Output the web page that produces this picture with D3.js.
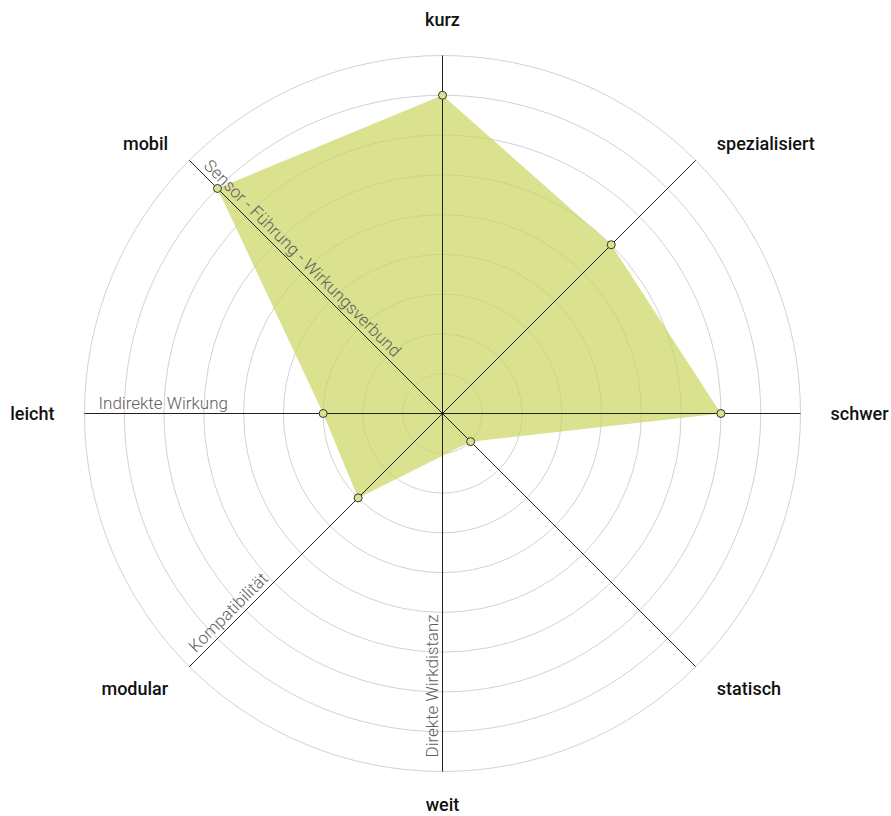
<!DOCTYPE html>
<html>
<head>
<style>
  body { margin: 0; background: #fff; }
  .label { font-family: Roboto, sans-serif; font-size: 18px; fill: #111; font-weight: 500; }
  .title { font-family: Roboto, sans-serif; font-size: 17px; fill: #5e5e5e; font-weight: 300; }
</style>
</head>
<body>
<div id="viz"></div>
<script src="https://d3js.org/d3.v7.min.js"></script>
<script>
  // axes, clockwise from the top
  const axes = ["kurz", "spezialisiert", "schwer", "statisch", "weit", "modular", "leicht", "mobil"];
  const values = [8, 6, 7, 1, null, 3, 3, 8];
  const axisTitles = ["", "", "", "", "Direkte Wirkdistanz", "Kompatibilität", "Indirekte Wirkung", "Sensor - Führung - Wirkungsverbund"];
  const rings = [1, 2, 3, 4, 5, 6, 7, 8, 9];

  const width = 891, height = 816,
        cx = 442.5, cy = 413.5, R = 358;

  const svg = d3.select("#viz").append("svg")
      .attr("width", width)
      .attr("height", height);

  const r = d3.scaleLinear()
      .domain([0, 9])
      .range([0, R]);

  const angle = d3.scalePoint()
      .domain(axes)
      .range([0, 2 * Math.PI * 7 / 8]);

  const g = svg.append("g")
      .attr("transform", `translate(${cx},${cy})`);

  const px = (a, rad) => rad * Math.sin(a),
        py = (a, rad) => -rad * Math.cos(a);

  // rings
  g.selectAll(".ring")
      .data(rings)
    .enter().append("circle")
      .attr("class", "ring")
      .attr("r", d => r(d))
      .attr("fill", "none")
      .attr("stroke", "#d2d2d2")
      .attr("stroke-width", 1);

  // filled area, skipping missing values
  const pts = axes.map((d, i) => ({ axis: d, value: values[i] }))
      .filter(d => d.value != null);

  const line = d3.lineRadial()
      .angle(d => angle(d.axis))
      .radius(d => r(d.value))
      .curve(d3.curveLinearClosed);

  g.append("path")
      .datum(pts)
      .attr("d", line)
      .attr("fill", "rgb(202,212,95)")
      .attr("fill-opacity", 0.7);

  // axis lines
  g.selectAll(".axis")
      .data(axes)
    .enter().append("line")
      .attr("class", "axis")
      .attr("x1", 0)
      .attr("y1", 0)
      .attr("x2", d => px(angle(d), R))
      .attr("y2", d => py(angle(d), R))
      .attr("stroke", "#222")
      .attr("stroke-width", 1);

  // axis titles, along the axis reading inwards
  axes.forEach((d, i) => {
    if (!axisTitles[i]) return;
    const a = angle(d);
    const rot = Math.atan2(Math.cos(a), -Math.sin(a)) * 180 / Math.PI;
    g.append("text")
        .attr("class", "title")
        .attr("transform", `translate(${px(a, 344)},${py(a, 344)}) rotate(${rot})`)
        .attr("dy", -5)
        .text(axisTitles[i]);
  });

  // markers
  g.selectAll(".dot")
      .data(pts)
    .enter().append("circle")
      .attr("class", "dot")
      .attr("cx", d => px(angle(d.axis), r(d.value)))
      .attr("cy", d => py(angle(d.axis), r(d.value)))
      .attr("r", 4)
      .attr("fill", "#dbe290")
      .attr("stroke", "#333")
      .attr("stroke-width", 1);

  // outer labels
  g.selectAll(".label")
      .data(axes)
    .enter().append("text")
      .attr("class", "label")
      .attr("x", d => px(angle(d), 388))
      .attr("y", d => {
        const a = angle(d), s = Math.abs(Math.sin(a)), c = Math.cos(a);
        if (s < 0.01) return py(a, c > 0 ? 394 : 391);
        if (s > 0.99) return py(a, 388);
        return py(a, 388) + (c > 0 ? 5 : 1);
      })
      .attr("dy", "0.35em")
      .attr("text-anchor", d => {
        const s = Math.sin(angle(d));
        return Math.abs(s) < 0.01 ? "middle" : (s > 0 ? "start" : "end");
      })
      .text(d => d);
</script>
</body>
</html>
